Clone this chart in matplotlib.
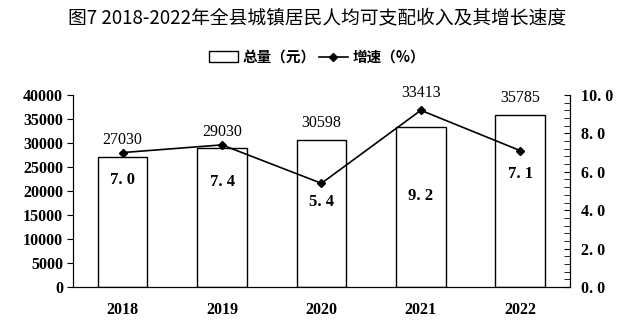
import matplotlib
matplotlib.use('Agg')
import matplotlib.pyplot as plt
from matplotlib.ticker import MultipleLocator, FuncFormatter
from matplotlib.patches import Patch
from matplotlib.lines import Line2D

# data
years = ['2018', '2019', '2020', '2021', '2022']
totals = [27030, 29030, 30598, 33413, 35785]
growth = [7.0, 7.4, 5.4, 9.2, 7.1]

# label offsets (pixels) so the texts dodge the line
total_offsets = [17, 16, 17, 34, 17]
growth_offsets = [-27, -37, -19, -86, -23]

plt.rcParams['font.family'] = ['Liberation Serif', 'DejaVu Serif']
cjk = ['Noto Sans CJK SC', 'DejaVu Sans']


def fmt1(v):
    # "7. 0" style, as in the source
    return '%d. %d' % (int(v), int(round(v * 10)) % 10)


fig = plt.figure(figsize=(6.34, 3.24), dpi=100)
ax1 = fig.add_axes([0.115, 0.114, 0.784, 0.593])
ax2 = ax1.twinx()

x = range(len(years))
ax1.bar(x, totals, width=0.5, color='white', edgecolor='black', lw=1.0, zorder=2)
ax1.set_ylim(0, 40000)
ax1.set_xlim(-0.5, len(years) - 0.5)
ax1.yaxis.set_major_locator(MultipleLocator(5000))
ax1.set_xticks(list(x))
ax1.set_xticklabels(years, fontsize=11.5, fontweight='bold')
ax1.tick_params(axis='x', length=0, pad=11)
ax1.tick_params(axis='y', direction='out', length=4, labelsize=11.5, pad=3)
for lab in ax1.get_yticklabels():
    lab.set_fontweight('bold')
ax1.spines['top'].set_visible(False)

for i, v in enumerate(totals):
    ax1.annotate(str(v), (i, v), xytext=(0, total_offsets[i]), textcoords='offset pixels',
                 ha='center', va='center', fontsize=11.5)

ax2.plot(x, growth, color='black', lw=1.2, marker='D', markersize=4.5, zorder=3)
ax2.set_ylim(0, 10)
ax2.yaxis.set_major_locator(MultipleLocator(2))
ax2.yaxis.set_minor_locator(MultipleLocator(0.4))
ax2.yaxis.set_major_formatter(FuncFormatter(lambda v, p: fmt1(v)))
ax2.tick_params(axis='y', which='both', direction='in', length=4, labelsize=11.5, pad=8)
for lab in ax2.get_yticklabels():
    lab.set_fontweight('bold')
ax2.spines['top'].set_visible(False)

for i, v in enumerate(growth):
    ax2.annotate(fmt1(v), (i, v), xytext=(0, growth_offsets[i]), textcoords='offset pixels',
                 ha='center', va='center', fontsize=12, fontweight='bold')

fig.text(0.5, 0.945, '图7 2018-2022年全县城镇居民人均可支配收入及其增长速度',
         ha='center', va='center', fontsize=13.5, family=cjk)

handles = [Patch(facecolor='white', edgecolor='black', lw=1.0),
           Line2D([], [], color='black', lw=1.2, marker='D', markersize=4)]
fig.legend(handles, ['总量（元）', '增速（%）'], loc='center', bbox_to_anchor=(0.5, 0.825),
           ncol=2, frameon=False, prop={'family': cjk, 'size': 10.5, 'weight': 'bold'},
           handlelength=2.0, handletextpad=0.3, columnspacing=0.2)

plt.savefig('out.png', dpi=100)
plt.close()
